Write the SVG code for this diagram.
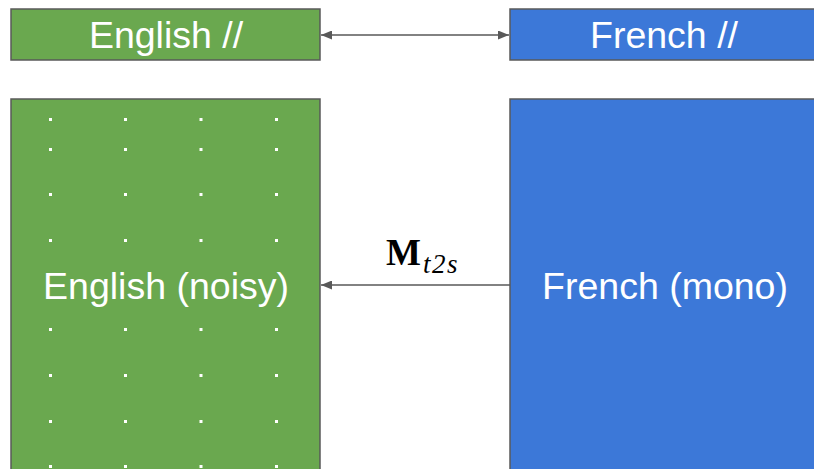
<svg xmlns="http://www.w3.org/2000/svg" width="814" height="469" viewBox="0 0 814 469">
  <style>
    .box { stroke: #595959; stroke-width: 1.5; }
    .en { fill: #6aa84f; }
    .fr { fill: #3c78d8; }
    .lbl { font-family: "Liberation Sans", Arial, sans-serif; font-size: 37.5px; fill: #ffffff; text-anchor: middle; }
    .dot { fill: #ffffff; }
    .conn { stroke: #595959; stroke-width: 1.5; fill: none; }
    .math { font-family: "Liberation Serif", "Times New Roman", serif; fill: #000000; }
  </style>
  <defs>
    <marker id="arrow" viewBox="0 0 11 9" refX="11" refY="4.5" markerWidth="11" markerHeight="9" markerUnits="userSpaceOnUse" orient="auto-start-reverse">
      <path d="M0,0 L11,4.5 L0,9 Z" fill="#595959"/>
    </marker>
    <!-- one row of four noise dots -->
    <g id="dotrow">
      <rect class="dot" x="49" y="0" width="3" height="3"/>
      <rect class="dot" x="124" y="0" width="3" height="3"/>
      <rect class="dot" x="199.5" y="0" width="3" height="3"/>
      <rect class="dot" x="275" y="0" width="3" height="3"/>
    </g>
  </defs>

  <g id="english-parallel">
    <rect class="box en" x="11" y="9" width="309" height="51"/>
    <text class="lbl" x="166" y="48">English //</text>
  </g>

  <g id="french-parallel">
    <rect class="box fr" x="510" y="9" width="309" height="51"/>
    <text class="lbl" x="664" y="48">French //</text>
  </g>

  <g id="english-noisy">
    <rect class="box en" x="11" y="99" width="309" height="380"/>
    <use href="#dotrow" y="118"/>
    <use href="#dotrow" y="148"/>
    <use href="#dotrow" y="193"/>
    <use href="#dotrow" y="239"/>
    <use href="#dotrow" y="328"/>
    <use href="#dotrow" y="374"/>
    <use href="#dotrow" y="420"/>
    <use href="#dotrow" y="465"/>
    <text class="lbl" x="166" y="299">English (noisy)</text>
  </g>

  <g id="french-mono">
    <rect class="box fr" x="510" y="99" width="309" height="380"/>
    <text class="lbl" x="665" y="299">French (mono)</text>
  </g>

  <g id="connectors">
    <line class="conn" x1="321" y1="35" x2="509" y2="35" marker-start="url(#arrow)" marker-end="url(#arrow)"/>
    <line class="conn" x1="510" y1="285" x2="321" y2="285" marker-end="url(#arrow)"/>
    <text class="math" x="386" y="265"><tspan font-weight="bold" font-size="37">M</tspan><tspan font-style="italic" font-size="27" dx="2" dy="8" letter-spacing="1.5">t2s</tspan></text>
  </g>
</svg>
